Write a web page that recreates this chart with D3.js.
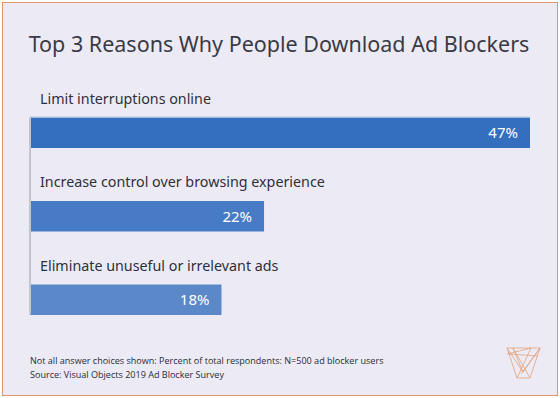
<!DOCTYPE html>
<html>
<head>
<meta charset="utf-8">
<script src="https://cdn.jsdelivr.net/npm/d3@7"></script>
<style>
  body { margin: 0; background: #fff; }
</style>
</head>
<body>
<div id="chart"></div>
<script>
var width = 560;
var height = 398;

// data
var reasons = ["Limit interruptions online", "Increase control over browsing experience", "Eliminate unuseful or irrelevant ads"];
var shares = [47, 22, 18];
var barColors = ["#346ebf", "#477bc6", "#5b88c9"];

var title = "Top 3 Reasons Why People Download Ad Blockers";
var notes = ["Not all answer choices shown: Percent of total respondents: N=500 ad blocker users", "Source: Visual Objects 2019 Ad Blocker Survey"];

var svg = d3.select("#chart").append("svg").attr("width", width).attr("height", height);

// background + frame
svg.append("rect").attr("x", 2.5).attr("y", 2.5).attr("width", width - 5).attr("height", height - 5)
    .attr("fill", "#ecebf5").attr("stroke", "#e3956a").attr("stroke-width", 1);

svg.append("text").attr("x", 279).attr("y", 52).attr("text-anchor", "middle")
    .attr("font-family", "Noto Sans").attr("font-size", 21.5).attr("fill", "#3a3a46").text(title);

// scales
var x = d3.scaleLinear().domain([0, 47]).range([30, 530]);
// each row is 83.5px; the bar sits at the top of the row, label above it
var y = d3.scaleBand().domain(reasons).range([117.5, 117.5 + 3 * 83.5]);
var barH = 30.5;

var rows = svg.selectAll("g.row").data(reasons).enter().append("g").attr("class", "row");

rows.append("text").attr("x", 40).attr("y", d => y(d) - 14)
    .attr("font-family", "Noto Sans").attr("font-size", 14.3).attr("fill", "#2f2f3a").text(d => d);

rows.append("rect").attr("x", x(0)).attr("y", d => y(d))
    .attr("width", (d, i) => x(shares[i]) - x(0)).attr("height", barH)
    .attr("fill", (d, i) => barColors[i]);

rows.append("text").attr("x", (d, i) => x(shares[i]) - 12).attr("y", d => y(d) + 20.5)
    .attr("text-anchor", "end").attr("font-family", "Noto Sans").attr("font-size", 15)
    .attr("fill", "#fff").text((d, i) => shares[i] + "%");

// light line along the top of the first bar
svg.append("line").attr("x1", x(0)).attr("x2", x(47)).attr("y1", 117).attr("y2", 117)
    .attr("stroke", "#b9c6de").attr("stroke-width", 1);

// baseline axis
var yAxis = d3.scaleLinear().range([117, 314]);
var axisG = svg.append("g").attr("transform", "translate(29.5,0)")
    .call(d3.axisLeft(yAxis).ticks(0).tickSize(0).tickFormat(""));
axisG.select(".domain").attr("stroke", "#c4c4cc").attr("stroke-width", 2);

// footnotes
svg.selectAll("text.note").data(notes).enter().append("text").attr("class", "note")
    .attr("x", 30).attr("y", (d, i) => 364 + i * 13.5)
    .attr("font-family", "Open Sans").attr("font-size", 9.05).attr("fill", "#2b2b35").text(d => d);

// logo
var logo = svg.append("g").attr("transform", "translate(507,348)")
    .attr("fill", "none").attr("stroke", "#e4a27a").attr("stroke-width", 0.8);
var logoLines = [
    [[0, 0], [33, 0]], [[0, 0], [10, 30]], [[33, 0], [23, 30]], [[10, 30], [23, 30]],
    [[0, 0], [16, 24]], [[6, 0], [16, 24]], [[33, 0], [14, 26]], [[24, 0], [10, 30]],
    [[6, 0], [23, 30]], [[0, 6], [24, 0]], [[16, 24], [33, 0]], [[2, 6], [31, 8]]
];
logoLines.forEach(function(l) {
    logo.append("path").attr("d", d3.line()(l));
});
</script>
</body>
</html>
